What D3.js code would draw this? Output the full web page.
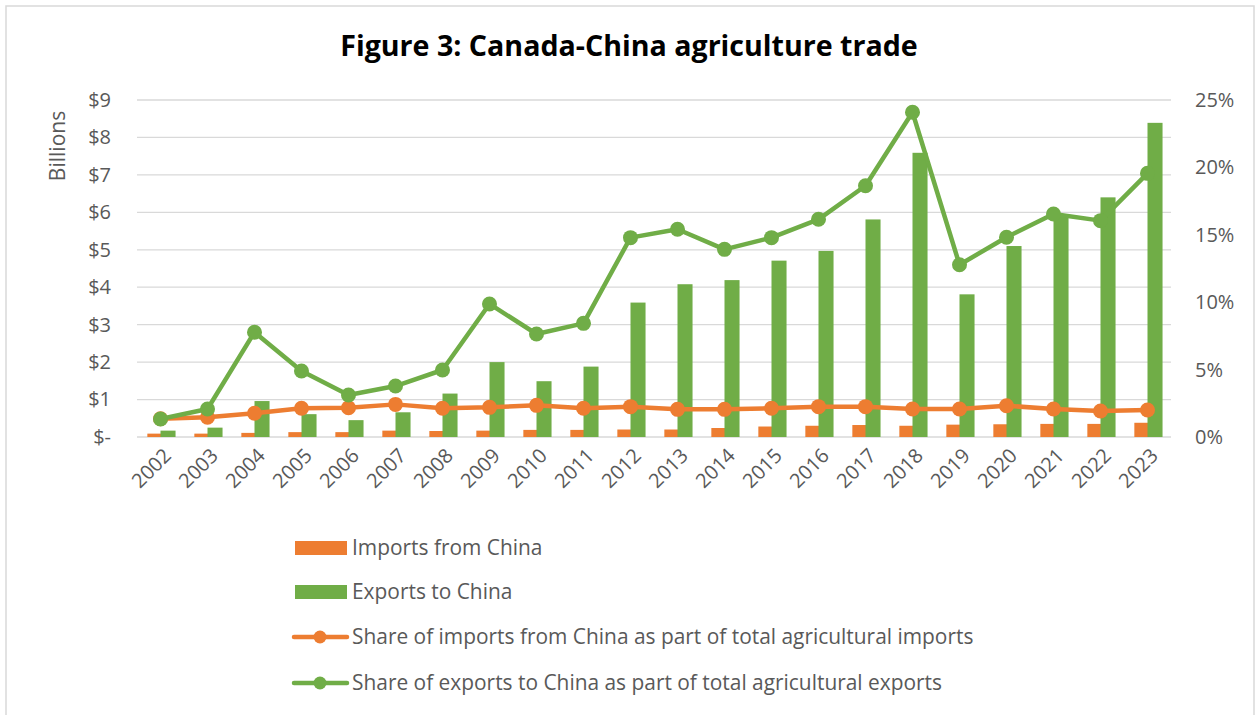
<!DOCTYPE html>
<html>
<head>
  <meta charset="utf-8">
  <script src="https://d3js.org/d3.v7.min.js"></script>
  <style>
    body { margin: 0; background: #fff; }
    text { font-family: "Open Sans", Lato, sans-serif; }
  </style>
</head>
<body>
  <svg id="chart" width="1255" height="715" viewBox="0 0 1255 715"
    xmlns="http://www.w3.org/2000/svg"></svg>
  <script>
    var years = ["2002", "2003", "2004", "2005", "2006", "2007", "2008", "2009", "2010", "2011", "2012",
                 "2013", "2014", "2015", "2016", "2017", "2018", "2019", "2020", "2021", "2022", "2023"];
    // billions of dollars
    var imports = [0.09, 0.09, 0.11, 0.13, 0.13, 0.17, 0.16, 0.17, 0.19, 0.19, 0.20,
                   0.20, 0.24, 0.28, 0.30, 0.32, 0.30, 0.33, 0.34, 0.35, 0.35, 0.38];
    var exports = [0.17, 0.25, 0.96, 0.61, 0.45, 0.66, 1.16, 2.00, 1.49, 1.88, 3.59,
                   4.08, 4.19, 4.71, 4.97, 5.81, 7.59, 3.81, 5.10, 5.90, 6.40, 8.39];
    // share of total agricultural trade, percent
    var importShare = [1.35, 1.46, 1.76, 2.13, 2.17, 2.42, 2.13, 2.20, 2.35, 2.13, 2.25,
                       2.05, 2.05, 2.13, 2.25, 2.25, 2.08, 2.08, 2.32, 2.08, 1.93, 2.00];
    var exportShare = [1.34, 2.08, 7.77, 4.90, 3.12, 3.78, 4.97, 9.87, 7.64, 8.43, 14.79,
                       15.41, 13.92, 14.79, 16.15, 18.64, 24.09, 12.78, 14.82, 16.54, 16.05, 19.56];
    var leftTicks = [0, 1, 2, 3, 4, 5, 6, 7, 8, 9];
    var rightTicks = [0, 5, 10, 15, 20, 25];
    var legendItems = [
      { label: "Imports from China", color: "#ed7d31", kind: "bar" },
      { label: "Exports to China", color: "#70ad47", kind: "bar" },
      { label: "Share of imports from China as part of total agricultural imports", color: "#ed7d31", kind: "line" },
      { label: "Share of exports to China as part of total agricultural exports", color: "#70ad47", kind: "line" }
    ];

    var orange = "#ed7d31", green = "#70ad47", grey = "#595959";
    var svg = d3.select("#chart");
    var plot = { left: 137, right: 1171, top: 100, bottom: 437 };

    // outer frame
    svg.append("rect")
      .attr("x", 6).attr("y", 6).attr("width", 1248).attr("height", 720)
      .attr("fill", "#fff").attr("stroke", "#d9d9d9").attr("stroke-width", 1.5);

    svg.append("text")
      .attr("x", 629).attr("y", 56)
      .attr("text-anchor", "middle")
      .attr("font-size", "28.6px").attr("font-weight", "bold")
      .attr("fill", "#000")
      .text("Figure 3: Canada-China agriculture trade");

    var x = d3.scaleBand().domain(years).range([plot.left, plot.right]);
    var y = d3.scaleLinear().domain([0, 9]).range([plot.bottom, plot.top]);
    var y2 = d3.scaleLinear().domain([0, 25]).range([plot.bottom, plot.top]);
    var step = x.step();
    function cx(d) { return x(d) + x.bandwidth() / 2; }

    // gridlines
    svg.append("g").selectAll("line")
      .data(leftTicks)
      .enter().append("line")
      .attr("x1", plot.left).attr("x2", plot.right)
      .attr("y1", function(d) { return y(d); })
      .attr("y2", function(d) { return y(d); })
      .attr("stroke", "#d9d9d9").attr("stroke-width", 1.3);

    // left axis
    var leftAxis = d3.axisLeft(y).tickValues(leftTicks).tickSize(0).tickPadding(0)
      .tickFormat(function(d) { return d === 0 ? "$-" : "$" + d; });
    var gl = svg.append("g").attr("transform", "translate(111,0)").call(leftAxis);
    gl.select(".domain").remove();
    gl.selectAll("text").attr("font-size", "20px").attr("fill", grey)
      .attr("font-family", "'Open Sans', sans-serif");

    svg.append("text")
      .attr("transform", "translate(65,146) rotate(-90)")
      .attr("text-anchor", "middle")
      .attr("font-size", "21px").attr("fill", grey)
      .text("Billions");

    // right axis
    var rightAxis = d3.axisRight(y2).tickValues(rightTicks).tickSize(0).tickPadding(0)
      .tickFormat(function(d) { return d + "%"; });
    var gr = svg.append("g").attr("transform", "translate(1195,0)").call(rightAxis);
    gr.select(".domain").remove();
    gr.selectAll("text").attr("font-size", "20px").attr("fill", grey)
      .attr("font-family", "'Open Sans', sans-serif");

    // x labels
    svg.append("g").selectAll("text")
      .data(years)
      .enter().append("text")
      .attr("transform", function(d) { return "translate(" + (cx(d) + 7) + ",452) rotate(-45)"; })
      .attr("text-anchor", "end")
      .attr("dy", "0.35em")
      .attr("font-size", "20px").attr("fill", grey)
      .text(function(d) { return d; });

    // bars
    svg.append("g").selectAll("rect")
      .data(imports)
      .enter().append("rect")
      .attr("x", function(d, i) { return cx(years[i]) - step * 0.28; })
      .attr("width", step * 0.3)
      .attr("y", function(d) { return y(d); })
      .attr("height", function(d) { return y(0) - y(d); })
      .attr("fill", orange);
    svg.append("g").selectAll("rect")
      .data(exports)
      .enter().append("rect")
      .attr("x", function(d, i) { return cx(years[i]); })
      .attr("width", step * 0.32)
      .attr("y", function(d) { return y(d); })
      .attr("height", function(d) { return y(0) - y(d); })
      .attr("fill", green);

    // lines
    function drawLine(vals, color) {
      var line = d3.line()
        .x(function(d, i) { return cx(years[i]); })
        .y(function(d) { return y2(d); });
      var g = svg.append("g");
      g.append("path").datum(vals)
        .attr("d", line)
        .attr("fill", "none").attr("stroke", color)
        .attr("stroke-width", 4.5).attr("stroke-linejoin", "round").attr("stroke-linecap", "round");
      g.selectAll("circle").data(vals)
        .enter().append("circle")
        .attr("cx", function(d, i) { return cx(years[i]); })
        .attr("cy", function(d) { return y2(d); })
        .attr("r", 7.5)
        .attr("fill", color);
    }
    drawLine(importShare, orange);
    drawLine(exportShare, green);

    // legend
    var lg = svg.append("g").selectAll("g")
      .data(legendItems)
      .enter().append("g")
      .attr("transform", function(d, i) { return "translate(0," + [548, 592, 637, 683][i] + ")"; });
    lg.filter(function(d) { return d.kind === "bar"; })
      .append("rect")
      .attr("x", 295).attr("y", -7).attr("width", 52).attr("height", 14)
      .attr("fill", function(d) { return d.color; });
    lg.filter(function(d) { return d.kind === "line"; })
      .append("line")
      .attr("x1", 294).attr("x2", 347).attr("y1", 0).attr("y2", 0)
      .attr("stroke", function(d) { return d.color; }).attr("stroke-width", 4.5)
      .attr("stroke-linecap", "round");
    lg.filter(function(d) { return d.kind === "line"; })
      .append("circle")
      .attr("cx", 320).attr("cy", 0).attr("r", 6.5)
      .attr("fill", function(d) { return d.color; });
    lg.append("text")
      .attr("x", 352).attr("y", 0).attr("dy", "0.35em")
      .attr("font-size", "20.9px").attr("fill", grey)
      .text(function(d) { return d.label; });
  </script>
</body>
</html>
